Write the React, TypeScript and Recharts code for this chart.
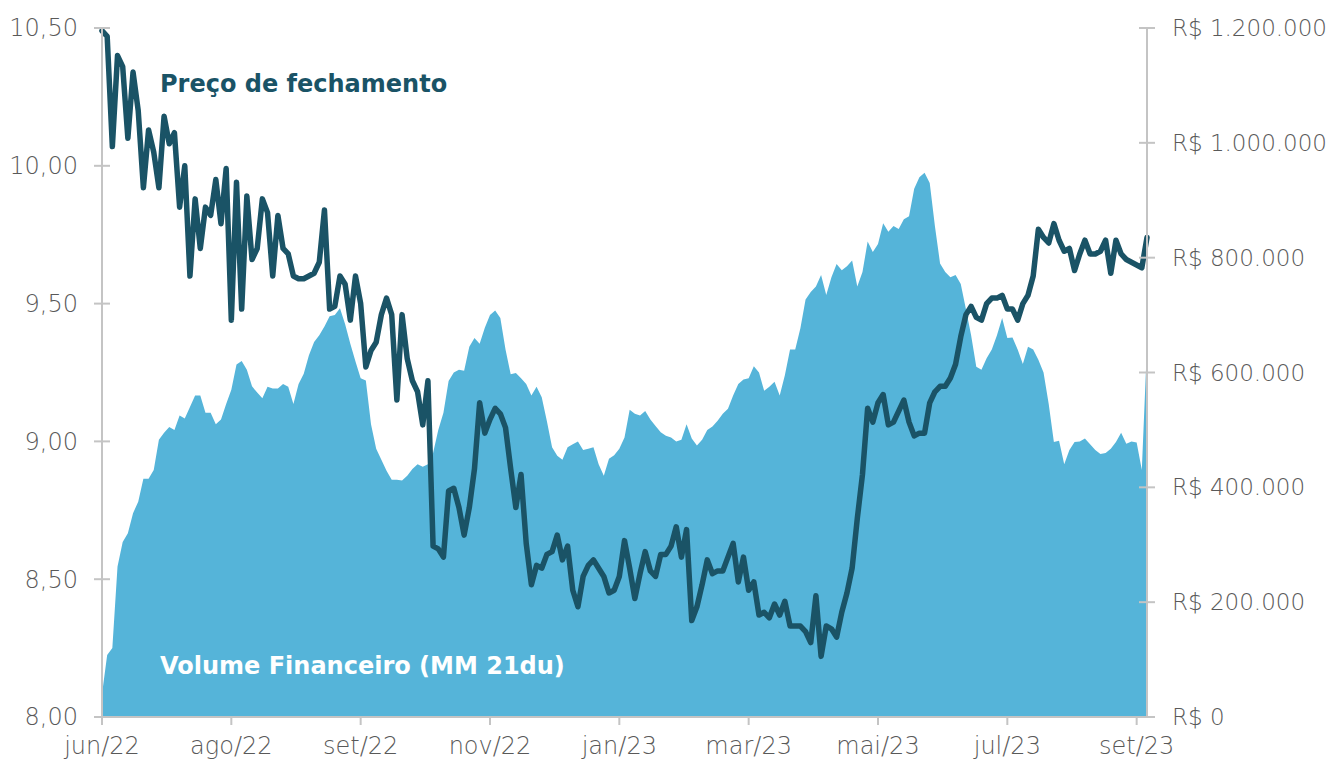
import { Area, ComposedChart, Line, XAxis, YAxis } from 'recharts';

const price = [
  10.49, 10.47, 10.07, 10.4, 10.36, 10.1, 10.34, 10.2, 9.92, 10.13,
  10.05, 9.92, 10.18, 10.08, 10.12, 9.85, 10.0, 9.6, 9.88, 9.7,
  9.85, 9.82, 9.95, 9.79, 9.99, 9.44, 9.94, 9.48, 9.89, 9.66,
  9.7, 9.88, 9.83, 9.6, 9.82, 9.7, 9.68, 9.6, 9.59, 9.59,
  9.6, 9.61, 9.65, 9.84, 9.48, 9.49, 9.6, 9.57, 9.44, 9.6,
  9.5, 9.27, 9.33, 9.36, 9.46, 9.52, 9.46, 9.15, 9.46, 9.3,
  9.22, 9.18, 9.06, 9.22, 8.62, 8.61, 8.58, 8.82, 8.83, 8.76,
  8.66, 8.76, 8.9, 9.14, 9.03, 9.08, 9.12, 9.1, 9.05, 8.9,
  8.76, 8.88, 8.63, 8.48, 8.55, 8.54, 8.59, 8.6, 8.66, 8.57,
  8.62, 8.46, 8.4, 8.51, 8.55, 8.57, 8.54, 8.51, 8.45, 8.46,
  8.51, 8.64, 8.54, 8.43, 8.52, 8.6, 8.53, 8.51, 8.59, 8.59,
  8.62, 8.69, 8.58, 8.68, 8.35, 8.4, 8.48, 8.57, 8.52, 8.53,
  8.53, 8.58, 8.63, 8.49, 8.58, 8.46, 8.49, 8.37, 8.38, 8.36,
  8.41, 8.37, 8.42, 8.33, 8.33, 8.33, 8.31, 8.27, 8.44, 8.22,
  8.33, 8.32, 8.29, 8.38, 8.45, 8.54, 8.72, 8.88, 9.12, 9.07,
  9.14, 9.17, 9.06, 9.07, 9.11, 9.15, 9.07, 9.02, 9.03, 9.03,
  9.14, 9.18, 9.2, 9.2, 9.23, 9.28, 9.38, 9.46, 9.49, 9.45,
  9.44, 9.5, 9.52, 9.52, 9.53, 9.48, 9.48, 9.44, 9.5, 9.53,
  9.6, 9.77, 9.74, 9.72, 9.79, 9.73, 9.69, 9.7, 9.62, 9.68,
  9.73, 9.68, 9.68, 9.69, 9.73, 9.61, 9.73, 9.68, 9.66, 9.65,
  9.64, 9.63, 9.74,
];

// volume financeiro, média móvel 21du, em milhares de R$
const volumeK = [
  40, 108, 120, 262, 305, 320, 355, 375, 415, 415,
  430, 483, 495, 505, 500, 525, 520, 540, 560, 560,
  530, 530, 510, 518, 545, 570, 614, 620, 605, 576,
  565, 555, 575, 572, 572, 580, 575, 545, 580, 598,
  630, 653, 665, 680, 698, 700, 712, 684, 650, 619,
  590, 586, 510, 467, 448, 429, 413, 413, 412, 420,
  432, 440, 436, 440, 460, 500, 530, 585, 600, 605,
  603, 645, 660, 650, 678, 700, 708, 695, 640, 597,
  599, 590, 580, 560, 575, 557, 515, 470, 455, 448,
  470, 475, 480, 465, 467, 470, 440, 420, 450, 456,
  467, 487, 535, 528, 525, 533, 518, 507, 496, 490,
  487, 480, 483, 510, 485, 473, 483, 500, 506, 516,
  528, 537, 560, 580, 588, 590, 611, 600, 568, 575,
  584, 560, 595, 640, 640, 677, 727, 740, 750, 770,
  735, 766, 789, 778, 785, 795, 750, 775, 828, 810,
  824, 860, 845, 855, 850, 867, 872, 920, 940, 948,
  930, 855, 790, 775, 766, 770, 754, 710, 665, 610,
  605, 625, 640, 665, 695, 660, 661, 640, 615, 645,
  640, 622, 600, 545, 479, 481, 440, 465, 479, 480,
  485, 475, 465, 458, 460, 467, 479, 495, 476, 480,
  478, 430, 648,
];

const monthLabels = ['jun/22', 'ago/22', 'set/22', 'nov/22', 'jan/23', 'mar/23', 'mai/23', 'jul/23', 'set/23'];
const monthTickIdx = [0, 25, 50, 75, 100, 125, 150, 175, 200];
const priceTicks = [8, 8.5, 9, 9.5, 10, 10.5];
const volumeTicks = [0, 200000, 400000, 600000, 800000, 1000000, 1200000];

const data = price.map((p, i) => ({ idx: i, price: p, volume: volumeK[i] * 1000 }));

const FONT = '"DejaVu Sans", sans-serif';
const GREY = '#c4c4c4';
const LABEL = '#595959';
const TICK_FS = 24;

const fmtPrice = (v: number) => v.toFixed(2).replace('.', ',');
const fmtBRL = (v: number) => 'R$ ' + String(v).replace(/\B(?=(\d{3})+(?!\d))/g, '.');

const LeftTick = (props: any) => {
  const { x, y, payload } = props;
  return (
    <g>
      <line x1={x - 8} x2={x + 8} y1={y} y2={y} stroke={GREY} strokeWidth={2} />
      <text x={x - 24} y={y} dy="0.35em" textAnchor="end" fill={LABEL} fontSize={TICK_FS} fontFamily={FONT} fontWeight={200}>
        {fmtPrice(payload.value)}
      </text>
    </g>
  );
};

const RightTick = (props: any) => {
  const { x, y, payload } = props;
  return (
    <g>
      <line x1={x - 8} x2={x + 8} y1={y} y2={y} stroke={GREY} strokeWidth={2} />
      <text x={x + 25} y={y} dy="0.35em" textAnchor="start" fill={LABEL} fontSize={23} fontFamily={FONT} fontWeight={200}>
        {fmtBRL(payload.value)}
      </text>
    </g>
  );
};

export default function App() {
  return (
    <div style={{ position: 'relative', width: 1330, height: 757 }}>
      <ComposedChart
        width={1330}
        height={757}
        data={data}
        margin={{ top: 20, right: 0, left: 0, bottom: 0 }}
        style={{ overflow: 'visible' }}
      >
        <XAxis
          dataKey="idx"
          type="number"
          domain={[0, 202]}
          ticks={monthTickIdx}
          tickFormatter={(v: number) => monthLabels[monthTickIdx.indexOf(v)]}
          height={48}
          stroke={GREY}
          strokeWidth={2}
          tickSize={8}
          tickMargin={12}
          tick={{ fill: LABEL, fontSize: TICK_FS, fontFamily: FONT, fontWeight: 200 }}
          interval={0}
        />
        <YAxis
          yAxisId="left"
          orientation="left"
          domain={[8, 10.5]}
          ticks={priceTicks}
          width={94}
          stroke={GREY}
          strokeWidth={2}
          tickLine={false}
          tickSize={0}
          tickMargin={0}
          tick={LeftTick}
          interval={0}
          allowDataOverflow
        />
        <YAxis
          yAxisId="right"
          orientation="right"
          domain={[0, 1200000]}
          ticks={volumeTicks}
          width={191}
          stroke={GREY}
          strokeWidth={2}
          tickLine={false}
          tickSize={0}
          tickMargin={0}
          tick={RightTick}
          interval={0}
          allowDataOverflow
        />
        <Area
          yAxisId="right"
          dataKey="volume"
          type="linear"
          stroke="none"
          fill="#55b4d9"
          fillOpacity={1}
          isAnimationActive={false}
        />
        <Line
          yAxisId="left"
          dataKey="price"
          type="linear"
          stroke="#1a5366"
          strokeWidth={5.5}
          strokeLinejoin="round"
          strokeLinecap="round"
          dot={false}
          isAnimationActive={false}
        />
      </ComposedChart>
      <div
        style={{
          position: 'absolute',
          left: 152,
          top: 62,
          fontFamily: FONT,
          fontWeight: 700,
          fontSize: 24,
          color: '#1a5366',
          whiteSpace: 'nowrap',
        }}
      >
        Preço de fechamento
      </div>
      <div
        style={{
          position: 'absolute',
          left: 152,
          top: 644,
          fontFamily: FONT,
          fontWeight: 700,
          fontSize: 24,
          color: '#ffffff',
          whiteSpace: 'nowrap',
        }}
      >
        Volume Financeiro (MM 21du)
      </div>
    </div>
  );
}
